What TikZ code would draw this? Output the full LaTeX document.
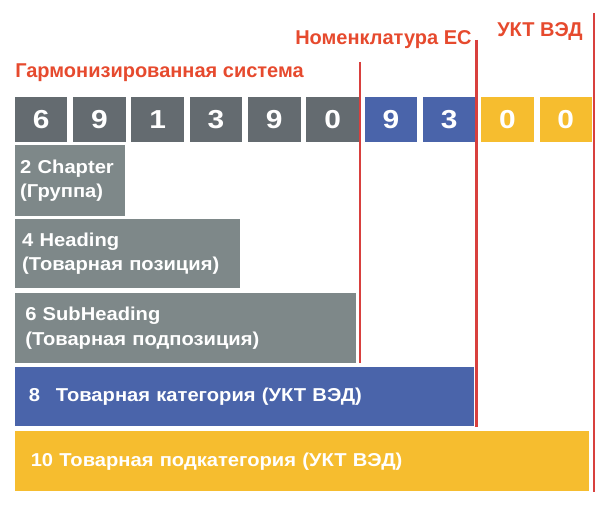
\documentclass[tikz,border=0pt]{standalone}
\usepackage{fontspec}
\setmainfont{Liberation Sans}
\newfontfamily\digitfont[FakeStretch=1.15]{Liberation Sans}
\newfontfamily\boxfont[FakeStretch=1.08]{Liberation Sans}
\usetikzlibrary{positioning}

\definecolor{hsgray}{HTML}{646B70}
\definecolor{lvlgray}{HTML}{7E8889}
\definecolor{ecblue}{HTML}{4A64AA}
\definecolor{uktyellow}{HTML}{F6BD2F}
\definecolor{redline}{HTML}{D8403E}
\definecolor{redtext}{HTML}{E64A2E}

\tikzset{
	digit/.style={text=white, font=\digitfont\bfseries\fontsize{19.5}{19.5}\selectfont, minimum width=39.4pt, minimum height=33.75pt, inner sep=0pt},
	level/.style={anchor=north west, text=white, align=left, font=\boxfont\bfseries\fontsize{14}{18.5}\selectfont, inner ysep=0pt},
	sysname/.style={anchor=base west, text=redtext, font=\bfseries\fontsize{15}{15}\selectfont, inner sep=0pt},
	border/.style={draw=redline, line width=1.6pt},
}

\begin{document}
\begin{tikzpicture}[x=0.75pt,y=-0.75pt]
				\useasboundingbox (0,0) rectangle (600,505);
				
				\node(hs)  [sysname] at (15,78)  {Гармонизированная система};
				\node(ec)  [sysname] at (295,45)  {Номенклатура ЕС};
				\node(ukt)  [sysname] at (497,37)  {УКТ ВЭД};
				
				\foreach \dg/\col [count=\i] in {6/hsgray,9/hsgray,1/hsgray,3/hsgray,9/hsgray,0/hsgray,9/ecblue,3/ecblue,0/uktyellow,0/uktyellow}
				\node(d\i)  [digit, fill=\col] at ({41.1+58.3*(\i-1)},119.5)  {\dg};
				
				\node(chapter)  [level, fill=lvlgray, text width=74.6pt, inner xsep=4.1pt, minimum height=53.25pt] at (14.5,145)  {2 Chapter\\(Группа)};
				\node(heading)  [level, fill=lvlgray, text width=157.9pt, inner xsep=5.6pt, minimum height=51.75pt] at (14.5,219)  {4 Heading\\(Товарная позиция)};
				\node(subheading)  [level, fill=lvlgray, text width=240.3pt, inner xsep=7.9pt, minimum height=52.5pt] at (14.5,293)  {6 SubHeading\\(Товарная подпозиция)};
				\node(category)  [level, fill=ecblue, text width=323.6pt, inner xsep=10.5pt, minimum height=44.25pt] at (14.5,367)  {8\hspace{12pt}Товарная категория (УКТ ВЭД)};
				\node(subcategory)  [level, fill=uktyellow, text width=406.9pt, inner xsep=12pt, minimum height=45pt] at (14.5,431)  {10 Товарная подкатегория (УКТ ВЭД)};
				
				\coordinate(hs top) at (360,62);
				\coordinate(hs bottom) at (360,363);
				\coordinate(ec top) at (476.5,40);
				\coordinate(ec bottom) at (476.5,427);
				\coordinate(ukt top) at (594,13);
				\coordinate(ukt bottom) at (594,492);
				
				\draw[border] (hs top) -- (hs bottom);
				\draw[border] (ec top) -- (ec bottom);
				\draw[border] (ukt top) -- (ukt bottom);
				
			\end{tikzpicture}
\end{document}
